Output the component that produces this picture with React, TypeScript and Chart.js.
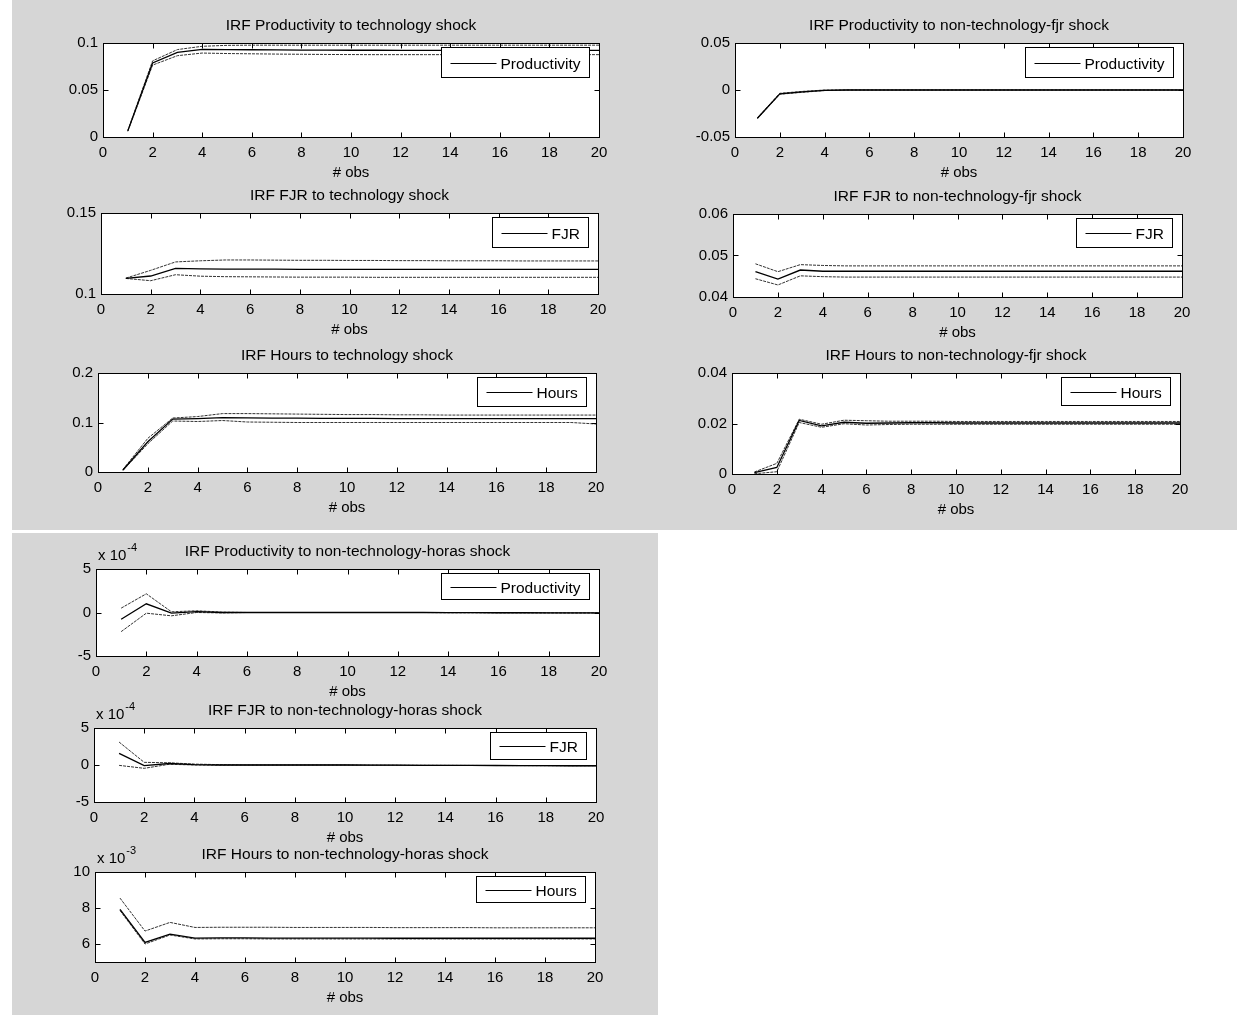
import React, { useEffect, useRef } from "react";
import { Chart, registerables } from "chart.js";

Chart.register(...registerables);

// ---------- data ----------
const OBS = [1, 2, 3, 4, 5, 6, 7, 8, 9, 10, 11, 12, 13, 14, 15, 16, 17, 18, 19, 20];
const X_TICKS = [0, 2, 4, 6, 8, 10, 12, 14, 16, 18, 20];

// IRF Productivity to technology shock
const prodTechUpper = [0.007, 0.081, 0.093, 0.0965, 0.0975, 0.0977, 0.0977, 0.0977, 0.0977, 0.0977, 0.0977, 0.0977, 0.0977, 0.0977, 0.0977, 0.0977, 0.0977, 0.0977, 0.0977, 0.0977];
const prodTechMid = [0.0065, 0.0788, 0.09, 0.0932, 0.093, 0.0928, 0.0926, 0.0925, 0.0924, 0.0923, 0.0923, 0.0922, 0.0922, 0.0922, 0.0922, 0.0922, 0.0922, 0.0922, 0.0922, 0.0922];
const prodTechLower = [0.006, 0.0765, 0.0865, 0.0893, 0.0888, 0.0885, 0.0882, 0.088, 0.0878, 0.0877, 0.0876, 0.0876, 0.0876, 0.0876, 0.0876, 0.0876, 0.0876, 0.0876, 0.0876, 0.0876];

// IRF FJR to technology shock
const fjrTechUpper = [0.1098, 0.1146, 0.1198, 0.1205, 0.121, 0.121, 0.1209, 0.1208, 0.1208, 0.1207, 0.1207, 0.1206, 0.1206, 0.1205, 0.1205, 0.1205, 0.1204, 0.1204, 0.1204, 0.1204];
const fjrTechMid = [0.1097, 0.1111, 0.1158, 0.1155, 0.1154, 0.1153, 0.1153, 0.1152, 0.1152, 0.1152, 0.1152, 0.1152, 0.1152, 0.1152, 0.1152, 0.1152, 0.1152, 0.1152, 0.1152, 0.1152];
const fjrTechLower = [0.1096, 0.1082, 0.1119, 0.111, 0.1107, 0.1106, 0.1105, 0.1104, 0.1104, 0.1104, 0.1103, 0.1103, 0.1103, 0.1103, 0.1103, 0.1103, 0.1103, 0.1103, 0.1103, 0.1103];

// IRF Hours to technology shock
const hoursTechUpper = [0.005, 0.068, 0.109, 0.112, 0.118, 0.118, 0.1175, 0.117, 0.1165, 0.116, 0.116, 0.1155, 0.1155, 0.115, 0.115, 0.115, 0.115, 0.115, 0.115, 0.115];
const hoursTechMid = [0.004, 0.061, 0.107, 0.108, 0.11, 0.1095, 0.109, 0.1088, 0.1085, 0.1083, 0.1082, 0.108, 0.108, 0.108, 0.108, 0.108, 0.108, 0.108, 0.108, 0.108];
const hoursTechLower = [0.003, 0.057, 0.103, 0.102, 0.104, 0.101, 0.1005, 0.1, 0.1, 0.1, 0.1, 0.1, 0.1, 0.1, 0.1, 0.1, 0.1, 0.1, 0.1, 0.097];

// IRF Productivity to non-technology-fjr shock
const prodFjrUpper = [-0.0295, -0.0035, -0.0015, 0, 0, 0, 0, 0, 0, 0, 0, 0, 0, 0, 0, 0, 0, 0, 0, 0];
const prodFjrMid = [-0.03, -0.004, -0.002, -0.0003, 0, 0, 0, 0, 0, 0, 0, 0, 0, 0, 0, 0, 0, 0, 0, 0];
const prodFjrLower = [-0.0305, -0.0045, -0.0025, -0.0006, 0, 0, 0, 0, 0, 0, 0, 0, 0, 0, 0, 0, 0, 0, 0, 0];

// IRF FJR to non-technology-fjr shock
const fjrFjrUpper = [0.048, 0.0461, 0.0478, 0.0476, 0.0475, 0.0475, 0.0475, 0.0475, 0.0475, 0.0475, 0.0475, 0.0475, 0.0475, 0.0475, 0.0475, 0.0475, 0.0475, 0.0475, 0.0475, 0.0475];
const fjrFjrMid = [0.0461, 0.0443, 0.0465, 0.0462, 0.0462, 0.0462, 0.0462, 0.0462, 0.0462, 0.0462, 0.0462, 0.0462, 0.0462, 0.0462, 0.0462, 0.0462, 0.0462, 0.0462, 0.0462, 0.0462];
const fjrFjrLower = [0.0444, 0.0429, 0.0451, 0.0449, 0.0448, 0.0448, 0.0448, 0.0448, 0.0448, 0.0448, 0.0448, 0.0448, 0.0448, 0.0448, 0.0448, 0.0448, 0.0448, 0.0448, 0.0448, 0.0448];

// IRF Hours to non-technology-fjr shock
const hoursFjrUpper = [0.0008, 0.0042, 0.0217, 0.0197, 0.0213, 0.0211, 0.0209, 0.0209, 0.0209, 0.0208, 0.0208, 0.0208, 0.0208, 0.0208, 0.0208, 0.0208, 0.0208, 0.0208, 0.0208, 0.0208];
const hoursFjrMid = [0.0005, 0.0026, 0.0212, 0.0191, 0.0205, 0.0201, 0.0202, 0.0203, 0.0203, 0.0202, 0.0202, 0.0202, 0.0202, 0.0202, 0.0202, 0.0202, 0.0202, 0.0202, 0.0202, 0.0202];
const hoursFjrLower = [0.0001, 0.0009, 0.0204, 0.0185, 0.0199, 0.0194, 0.0196, 0.0197, 0.0197, 0.0197, 0.0197, 0.0197, 0.0197, 0.0197, 0.0197, 0.0197, 0.0197, 0.0197, 0.0197, 0.0197];

// IRF Productivity to non-technology-horas shock (x 10^-4)
const prodHorasUpper = [0.5, 2.15, 0.08, 0.2, 0.05, 0, 0, 0, 0, 0, 0, 0, 0, -0.02, -0.02, -0.03, -0.03, -0.04, -0.05, -0.05];
const prodHorasMid = [-0.77, 1.0, -0.08, 0.1, 0, 0, 0, 0, 0, 0, 0, 0, 0, -0.02, -0.02, -0.03, -0.03, -0.04, -0.05, -0.05];
const prodHorasLower = [-2.2, -0.08, -0.38, 0, -0.05, 0, 0, 0, 0, 0, 0, 0, 0, -0.02, -0.02, -0.03, -0.03, -0.04, -0.05, -0.05];

// IRF FJR to non-technology-horas shock (x 10^-4)
const fjrHorasUpper = [3.1, 0.36, 0.3, 0.12, 0.05, 0, 0, 0, 0, 0, -0.02, -0.03, -0.04, -0.05, -0.06, -0.07, -0.08, -0.09, -0.1, -0.1];
const fjrHorasMid = [1.56, -0.09, 0.2, 0.05, 0, 0, 0, 0, 0, 0, -0.02, -0.03, -0.04, -0.05, -0.06, -0.07, -0.08, -0.09, -0.1, -0.1];
const fjrHorasLower = [-0.05, -0.45, 0.1, 0, -0.02, 0, 0, 0, 0, 0, -0.02, -0.03, -0.04, -0.05, -0.06, -0.07, -0.08, -0.09, -0.1, -0.1];

// IRF Hours to non-technology-horas shock (x 10^-3)
const hoursHorasUpper = [8.55, 6.72, 7.2, 6.92, 6.93, 6.93, 6.93, 6.92, 6.92, 6.92, 6.92, 6.91, 6.91, 6.91, 6.91, 6.9, 6.9, 6.9, 6.9, 6.9];
const hoursHorasMid = [7.92, 6.09, 6.55, 6.33, 6.34, 6.34, 6.33, 6.33, 6.33, 6.33, 6.33, 6.32, 6.32, 6.32, 6.32, 6.32, 6.32, 6.32, 6.32, 6.32];
const hoursHorasLower = [7.86, 6.0, 6.5, 6.28, 6.29, 6.29, 6.28, 6.28, 6.28, 6.28, 6.28, 6.28, 6.28, 6.28, 6.28, 6.28, 6.28, 6.28, 6.28, 6.28];

// y tick values per panel
const yTicksProdTech = [0, 0.05, 0.1];
const yTicksFjrTech = [0.1, 0.15];
const yTicksHoursTech = [0, 0.1, 0.2];
const yTicksProdFjr = [-0.05, 0, 0.05];
const yTicksFjrFjr = [0.04, 0.05, 0.06];
const yTicksHoursFjr = [0, 0.02, 0.04];
const yTicksProdHoras = [-5, 0, 5];
const yTicksFjrHoras = [-5, 0, 5];
const yTicksHoursHoras = [6, 8, 10];

// ---------- layout / style ----------
const FONT = '"Liberation Sans", Arial, Helvetica, sans-serif';
const AXIS_W = 60;
const TITLE_H = 30;
const XAXIS_H = 50;
const PAD_R = 16;
const BG = "#d6d6d6";

type Spec = {
  title: string;
  legend: string;
  upper: number[];
  mid: number[];
  lower: number[];
  yMin: number;
  yMax: number;
  yTicks: number[];
  exponent?: string;
  box: [number, number, number, number];
  legendH: number;
};

const PANELS: Spec[] = [
  { title: "IRF Productivity to technology shock", legend: "Productivity", upper: prodTechUpper, mid: prodTechMid, lower: prodTechLower, yMin: 0, yMax: 0.1, yTicks: yTicksProdTech, box: [103, 43, 599, 137], legendH: 30 },
  { title: "IRF FJR to technology shock", legend: "FJR", upper: fjrTechUpper, mid: fjrTechMid, lower: fjrTechLower, yMin: 0.1, yMax: 0.15, yTicks: yTicksFjrTech, box: [101, 213, 598, 294], legendH: 30 },
  { title: "IRF Hours to technology shock", legend: "Hours", upper: hoursTechUpper, mid: hoursTechMid, lower: hoursTechLower, yMin: 0, yMax: 0.2, yTicks: yTicksHoursTech, box: [98, 373, 596, 472], legendH: 29 },
  { title: "IRF Productivity to non-technology-fjr shock", legend: "Productivity", upper: prodFjrUpper, mid: prodFjrMid, lower: prodFjrLower, yMin: -0.05, yMax: 0.05, yTicks: yTicksProdFjr, box: [735, 43, 1183, 137], legendH: 30 },
  { title: "IRF FJR to non-technology-fjr shock", legend: "FJR", upper: fjrFjrUpper, mid: fjrFjrMid, lower: fjrFjrLower, yMin: 0.04, yMax: 0.06, yTicks: yTicksFjrFjr, box: [733, 214, 1182, 297], legendH: 29 },
  { title: "IRF Hours to non-technology-fjr shock", legend: "Hours", upper: hoursFjrUpper, mid: hoursFjrMid, lower: hoursFjrLower, yMin: 0, yMax: 0.04, yTicks: yTicksHoursFjr, box: [732, 373, 1180, 474], legendH: 28 },
  { title: "IRF Productivity to non-technology-horas shock", legend: "Productivity", upper: prodHorasUpper, mid: prodHorasMid, lower: prodHorasLower, yMin: -5, yMax: 5, yTicks: yTicksProdHoras, exponent: "-4", box: [96, 569, 599, 656], legendH: 26 },
  { title: "IRF FJR to non-technology-horas shock", legend: "FJR", upper: fjrHorasUpper, mid: fjrHorasMid, lower: fjrHorasLower, yMin: -5, yMax: 5, yTicks: yTicksFjrHoras, exponent: "-4", box: [94, 728, 596, 802], legendH: 27 },
  { title: "IRF Hours to non-technology-horas shock", legend: "Hours", upper: hoursHorasUpper, mid: hoursHorasMid, lower: hoursHorasLower, yMin: 5, yMax: 10, yTicks: yTicksHoursHoras, exponent: "-3", box: [95, 872, 595, 962], legendH: 26 },
];

const framePlugin = {
  id: "irfFrame",
  beforeDraw(chart: any) {
    const { ctx, chartArea: a } = chart;
    ctx.save();
    ctx.fillStyle = "#ffffff";
    ctx.fillRect(a.left, a.top, a.right - a.left, a.bottom - a.top);
    ctx.restore();
  },
  afterDraw(chart: any, _args: any, opts: any) {
    const { ctx, chartArea: a, scales } = chart;
    const L = Math.round(a.left) + 0.5;
    const R = Math.round(a.right) + 0.5;
    const T = Math.round(a.top) + 0.5;
    const B = Math.round(a.bottom) + 0.5;
    ctx.save();
    ctx.strokeStyle = "#000";
    ctx.lineWidth = 1;
    ctx.strokeRect(L, T, R - L, B - T);
    // inward ticks
    ctx.beginPath();
    for (const v of X_TICKS) {
      const px = Math.round(scales.x.getPixelForValue(v)) + 0.5;
      ctx.moveTo(px, B);
      ctx.lineTo(px, B - 5);
      ctx.moveTo(px, T);
      ctx.lineTo(px, T + 5);
    }
    for (const v of opts.yTicks || []) {
      const py = Math.round(scales.y.getPixelForValue(v)) + 0.5;
      ctx.moveTo(L, py);
      ctx.lineTo(L + 5, py);
      ctx.moveTo(R, py);
      ctx.lineTo(R - 5, py);
    }
    ctx.stroke();

    // legend box
    const label = chart.data.datasets[0].label;
    ctx.font = `15.5px ${FONT}`;
    const tw = ctx.measureText(label).width;
    const w = Math.round(68 + tw);
    const h = opts.legendH || 29;
    const x0 = Math.round(a.right - 10 - w) + 0.5;
    const y0 = Math.round(a.top + 4) + 0.5;
    ctx.fillStyle = "#fff";
    ctx.fillRect(x0, y0, w, h);
    ctx.strokeRect(x0, y0, w, h);
    const cy = Math.round(y0 + h / 2) + 0.5;
    ctx.beginPath();
    ctx.lineWidth = 1.2;
    ctx.moveTo(x0 + 9, cy);
    ctx.lineTo(x0 + 55, cy);
    ctx.stroke();
    ctx.fillStyle = "#000";
    ctx.textBaseline = "middle";
    ctx.textAlign = "left";
    ctx.fillText(label, x0 + 59, cy + 1);

    // exponent label
    if (opts.exponent) {
      const base = "x 10";
      ctx.font = `15px ${FONT}`;
      const bw = ctx.measureText(base).width;
      ctx.fillText(base, a.left + 2, a.top - 13);
      ctx.font = `11px ${FONT}`;
      ctx.fillText(opts.exponent, a.left + 3 + bw, a.top - 21);
    }
    ctx.restore();
  },
};

function Panel({ spec }: { spec: Spec }) {
  const ref = useRef<HTMLCanvasElement>(null);
  const [L, T, R, B] = spec.box;
  const W = R - L + AXIS_W + PAD_R;
  const H = B - T + TITLE_H + XAXIS_H;

  useEffect(() => {
    const font = { family: FONT, size: 15, weight: "normal" as const, lineHeight: "17px" };
    const titleFont = { family: FONT, size: 15.5, weight: "normal" as const, lineHeight: "17px" };
    const toPts = (arr: number[]) => OBS.map((x, i) => ({ x, y: arr[i] }));
    const chart = new Chart(ref.current as HTMLCanvasElement, {
      type: "line",
      data: {
        datasets: [
          { label: spec.legend, data: toPts(spec.mid), borderColor: "#000", borderWidth: 1.3, pointRadius: 0, tension: 0, fill: false },
          { label: "upper", data: toPts(spec.upper), borderColor: "#333", borderWidth: 1, borderDash: [3, 1], pointRadius: 0, tension: 0, fill: false },
          { label: "lower", data: toPts(spec.lower), borderColor: "#333", borderWidth: 1, borderDash: [3, 1], pointRadius: 0, tension: 0, fill: false },
        ],
      },
      options: {
        responsive: false,
        animation: false,
        devicePixelRatio: 1,
        layout: { padding: { left: 0, right: PAD_R, top: 0, bottom: 0 } },
        plugins: {
          legend: { display: false },
          tooltip: { enabled: false },
          title: {
            display: true,
            text: spec.title,
            fullSize: false,
            color: "#000",
            font: titleFont,
            padding: { top: 4, bottom: 9 },
          },
          irfFrame: { yTicks: spec.yTicks, exponent: spec.exponent, legendH: spec.legendH },
        } as any,
        scales: {
          x: {
            type: "linear",
            min: 0,
            max: 20,
            grid: { display: false, drawTicks: false },
            border: { display: false },
            ticks: { color: "#000", font, padding: 7, autoSkip: false, maxRotation: 0 },
            title: { display: true, text: "# obs", color: "#000", font, padding: { top: 0, bottom: 6 } },
            afterBuildTicks: (s: any) => {
              s.ticks = X_TICKS.map((v) => ({ value: v }));
            },
            afterFit: (s: any) => {
              s.height = XAXIS_H;
              s.paddingLeft = 0;
              s.paddingRight = 0;
            },
          },
          y: {
            type: "linear",
            min: spec.yMin,
            max: spec.yMax,
            grid: { display: false, drawTicks: false },
            border: { display: false },
            ticks: { color: "#000", font, padding: 5, callback: (v: any) => String(v) },
            afterBuildTicks: (s: any) => {
              s.ticks = spec.yTicks.map((v) => ({ value: v }));
            },
            afterFit: (s: any) => {
              s.width = AXIS_W;
              s.paddingTop = 0;
              s.paddingBottom = 0;
            },
          },
        } as any,
      },
      plugins: [framePlugin as any],
    });
    return () => chart.destroy();
  }, [spec]);

  return (
    <canvas
      ref={ref}
      width={W}
      height={H}
      style={{ position: "absolute", left: L - AXIS_W, top: T - TITLE_H, width: W, height: H }}
    />
  );
}

export default function App() {
  return (
    <div style={{ position: "absolute", left: 0, top: 0, width: 1244, height: 1015, background: "#fff", overflow: "hidden" }}>
      <div style={{ position: "absolute", left: 12, top: 0, width: 1225, height: 530, background: BG }} />
      <div style={{ position: "absolute", left: 12, top: 533, width: 646, height: 482, background: BG }} />
      {PANELS.map((p, i) => (
        <Panel key={i} spec={p} />
      ))}
    </div>
  );
}
